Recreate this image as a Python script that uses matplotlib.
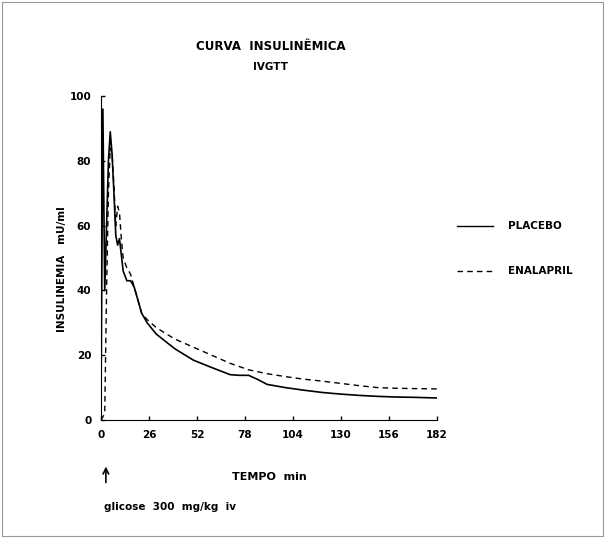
import matplotlib.pyplot as plt
from matplotlib.patches import Rectangle

# tempo (min) e insulinemia (mU/ml)
t_placebo = [0, 1, 2, 3, 4, 5, 6, 7, 8, 9, 10, 12, 14, 16, 18, 20, 22, 25, 30, 40,
             50, 60, 70, 75, 80, 85, 90, 100, 110, 120, 130, 140, 150, 160, 170, 182]
placebo = [8, 96, 40, 60, 80, 89, 82, 70, 57, 54, 56, 46, 43, 43, 41, 37, 33, 30, 26.5, 22,
           18.5, 16.2, 14, 13.8, 13.8, 12.5, 11, 10, 9.2, 8.5, 8, 7.6, 7.3, 7.1, 7, 6.8]

t_enalapril = [0, 2, 3, 4, 5, 6, 7, 8, 9, 10, 11, 12, 14, 16, 18, 20, 22, 25, 30, 40,
               50, 60, 70, 80, 90, 100, 110, 120, 130, 140, 150, 160, 170, 182]
enalapril = [0, 2, 40, 70, 84, 82, 72, 60, 66, 64, 56, 50, 47, 45, 41, 37, 33, 31, 28.5, 25,
             22.5, 20, 17.5, 15.5, 14.3, 13.4, 12.6, 12, 11.3, 10.6, 10, 9.8, 9.7, 9.6]

xticks = [0, 26, 52, 78, 104, 130, 156, 182]
yticks = [0, 20, 40, 60, 80, 100]

fig = plt.figure(figsize=(6.05, 5.38), dpi=100)
fig.patches.append(Rectangle((0.003, 0.003), 0.994, 0.994, transform=fig.transFigure,
                             fill=False, edgecolor='#999999', linewidth=0.8))

ax = fig.add_axes([0.167, 0.2193, 0.555, 0.602])
ax.plot(t_placebo, placebo, color='black', linewidth=1.2)
ax.plot(t_enalapril, enalapril, color='black', linewidth=1.0, linestyle=(0, (4, 3)))

ax.set_xlim(0, 182)
ax.set_ylim(0, 100)
ax.set_xticks(xticks)
ax.set_yticks(yticks)
ax.spines['top'].set_visible(False)
ax.spines['right'].set_visible(False)
ax.tick_params(direction='in', length=3, width=1, labelsize=7.5, pad=7)
for lab in ax.get_xticklabels() + ax.get_yticklabels():
    lab.set_fontweight('bold')

bold = dict(fontweight='bold', color='black')
fig.text(0.447, 0.913, 'CURVA  INSULINÊMICA', ha='center', va='center', fontsize=8.5, **bold)
fig.text(0.447, 0.876, 'IVGTT', ha='center', va='center', fontsize=7.5, **bold)
fig.text(0.103, 0.50, 'INSULINEMIA   mU/ml', rotation=90, ha='center', va='center',
         fontsize=7.5, **bold)
fig.text(0.445, 0.113, 'TEMPO  min', ha='center', va='center', fontsize=8, **bold)
fig.text(0.172, 0.058, 'glicose  300  mg/kg  iv', ha='left', va='center', fontsize=7.5, **bold)
fig.add_artist(plt.Annotation('', xy=(0.175, 0.138), xytext=(0.175, 0.098),
                              xycoords='figure fraction',
                              arrowprops=dict(arrowstyle='->', color='black', lw=1.2)))

# legenda
fig.add_artist(plt.Line2D([0.755, 0.815], [0.58, 0.58], color='black', linewidth=1.0))
fig.add_artist(plt.Line2D([0.755, 0.815], [0.496, 0.496], color='black', linewidth=1.0,
                          linestyle=(0, (4, 3))))
fig.text(0.84, 0.58, 'PLACEBO', ha='left', va='center', fontsize=7.5, **bold)
fig.text(0.84, 0.496, 'ENALAPRIL', ha='left', va='center', fontsize=7.5, **bold)

fig.savefig('out.png', dpi=100)
